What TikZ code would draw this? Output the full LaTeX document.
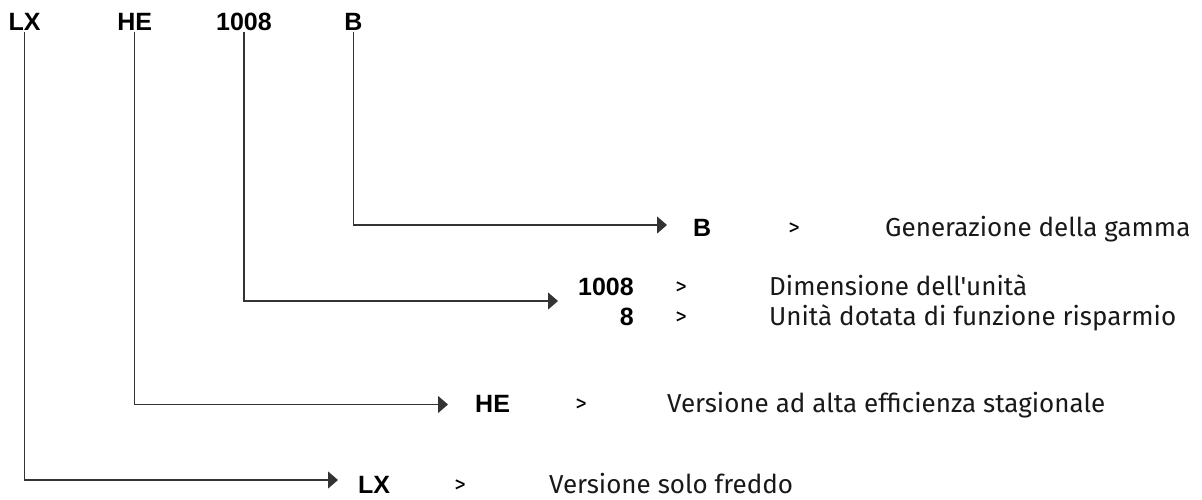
\documentclass[tikz,border=0pt]{standalone}
\usepackage{fontspec}
\newfontfamily\descfont{Fira Sans}
\newfontfamily\labfont{Liberation Sans}
\usetikzlibrary{arrows.meta}
\begin{document}
\begin{tikzpicture}[x=1pt,y=-1pt,
  code/.style={font=\labfont\bfseries\fontsize{25}{25}\selectfont, inner sep=0},
  desc/.style={font=\descfont\fontsize{26}{26}\selectfont, inner sep=0, anchor=base west, text=black!90},
  gt/.style={font=\descfont\fontsize{23}{23}\selectfont, inner sep=0, anchor=base},
  conn/.style={line width=1.1pt, draw=black!80, -{Triangle[length=10pt,width=17pt]}}]
\useasboundingbox (0,0) rectangle (1202,499);
% top code
\node[code, anchor=base] (tLX) at (24.5,30) {LX};
\node[code, anchor=base] (tHE) at (134.7,30) {HE};
\node[code, anchor=base] (t1008) at (244,30) {1008};
\node[code, anchor=base] (tB) at (353.5,30) {B};
% arrow ends
\coordinate (aB) at (667,225);
\coordinate (a1008) at (558,301);
\coordinate (aHE) at (448,404.5);
\coordinate (aLX) at (338,480);
% row B
\node[code, anchor=base west] (rB) at (693,236) {B};
\node[gt] (gB) at (794,235) {>};
\node[desc] (dB) at (885,236) {Generazione della gamma};
% row 1008
\node[code, anchor=base east] (r1008) at (634,295) {1008};
\node[gt] (g1008) at (681,294) {>};
\node[desc] (d1008) at (769,295) {Dimensione dell'unità};
\node[code, anchor=base east] (r8) at (634,325) {8};
\node[gt] (g8) at (681,324) {>};
\node[desc] (d8) at (769,325) {Unità dotata di funzione risparmio};
% row HE
\node[code, anchor=base west] (rHE) at (475,412) {HE};
\node[gt] (gHE) at (581,411) {>};
\node[desc] (dHE) at (667,412) {Versione ad alta efficienza stagionale};
% row LX
\node[code, anchor=base west] (rLX) at (358,493) {LX};
\node[gt] (gLX) at (460,492) {>};
\node[desc] (dLX) at (549,493) {Versione solo freddo};
% connectors
\draw[conn] ([yshift=-2pt]tB.south) |- (aB);
\draw[conn] ([yshift=-2pt]t1008.south) |- (a1008);
\draw[conn] ([yshift=-2pt]tHE.south) |- (aHE);
\draw[conn] ([yshift=-2pt]tLX.south) |- (aLX);
\end{tikzpicture}
\end{document}
